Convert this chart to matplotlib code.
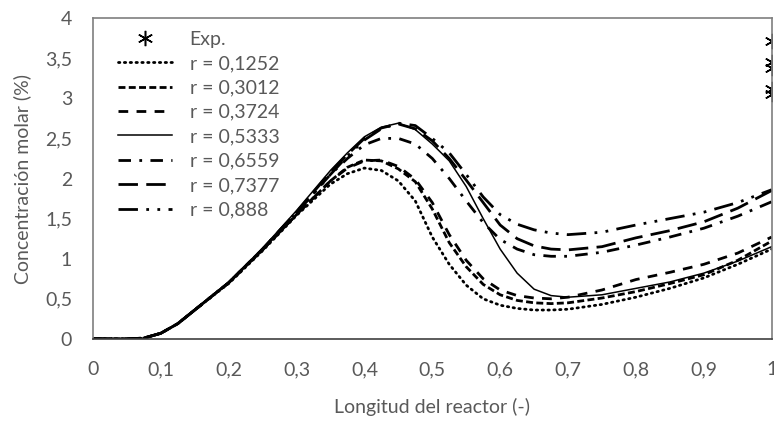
import numpy as np
import matplotlib.pyplot as plt

plt.rcParams['font.family'] = ['Lato', 'DejaVu Sans']

# longitud adimensional del reactor
x = [0, 0.05, 0.075, 0.1, 0.125, 0.15, 0.175, 0.2, 0.25, 0.3,
     0.35, 0.375, 0.4, 0.425, 0.45, 0.475, 0.5, 0.525, 0.55, 0.575,
     0.6, 0.625, 0.65, 0.675, 0.7, 0.75, 0.8, 0.85, 0.9, 0.95, 1.0]

c_01252 = [0, 0, 0.01, 0.07, 0.19, 0.36, 0.53, 0.69, 1.1, 1.54,
           1.93, 2.06, 2.13, 2.1, 1.97, 1.72, 1.27, 0.93, 0.67, 0.5,
           0.42, 0.38, 0.36, 0.36, 0.37, 0.43, 0.52, 0.63, 0.76, 0.93, 1.12]
c_03012 = [0, 0, 0.01, 0.07, 0.19, 0.36, 0.53, 0.7, 1.11, 1.55,
           1.97, 2.14, 2.23, 2.22, 2.12, 1.96, 1.62, 1.2, 0.9, 0.68,
           0.55, 0.48, 0.45, 0.44, 0.45, 0.51, 0.59, 0.69, 0.8, 0.98, 1.22]
c_03724 = [0, 0, 0.01, 0.07, 0.19, 0.36, 0.53, 0.7, 1.11, 1.55,
           1.97, 2.13, 2.22, 2.23, 2.15, 1.99, 1.7, 1.3, 0.98, 0.75,
           0.61, 0.54, 0.51, 0.5, 0.52, 0.61, 0.74, 0.83, 0.93, 1.07, 1.27]
c_05333 = [0, 0, 0.01, 0.07, 0.19, 0.37, 0.54, 0.71, 1.13, 1.6,
           2.1, 2.32, 2.52, 2.64, 2.69, 2.61, 2.43, 2.22, 1.9, 1.5,
           1.12, 0.82, 0.62, 0.54, 0.52, 0.55, 0.63, 0.71, 0.82, 0.97, 1.15]
c_06559 = [0, 0, 0.01, 0.07, 0.19, 0.36, 0.53, 0.7, 1.12, 1.58,
           2.05, 2.25, 2.42, 2.5, 2.5, 2.43, 2.25, 2.0, 1.72, 1.45,
           1.24, 1.12, 1.05, 1.03, 1.03, 1.08, 1.17, 1.27, 1.38, 1.53, 1.71]
c_07377 = [0, 0, 0.01, 0.07, 0.19, 0.36, 0.53, 0.7, 1.12, 1.58,
           2.08, 2.3, 2.5, 2.63, 2.68, 2.62, 2.47, 2.25, 1.98, 1.7,
           1.42, 1.25, 1.16, 1.12, 1.11, 1.15, 1.26, 1.35, 1.46, 1.63, 1.85]
c_0888 = [0, 0, 0.01, 0.07, 0.19, 0.36, 0.53, 0.7, 1.12, 1.57,
          2.05, 2.28, 2.48, 2.62, 2.69, 2.66, 2.5, 2.32, 2.05, 1.77,
          1.55, 1.43, 1.36, 1.32, 1.3, 1.33, 1.42, 1.5, 1.58, 1.7, 1.86]

# datos experimentales (salida del reactor)
x_exp = [1, 1, 1, 1, 1]
c_exp = [3.72, 3.45, 3.38, 3.12, 3.05]

gris = '#595959'

fig = plt.figure(figsize=(7.74, 4.21), dpi=100)
ax = fig.add_axes([0.120, 0.195, 0.877, 0.762])

ax.plot(x_exp, c_exp, linestyle='none', marker=(6, 2, 0), markersize=11,
        markeredgewidth=1.1, color='black', label='Exp.')
ax.plot(x, c_01252, color='black', lw=2, linestyle=(0, (0.5, 1.6)),
        dash_capstyle='round', label='r = 0,1252')
ax.plot(x, c_03012, color='black', lw=2, linestyle=(0, (2.5, 1.2)),
        label='r = 0,3012')
ax.plot(x, c_03724, color='black', lw=2, linestyle=(0, (3.5, 3)),
        label='r = 0,3724')
ax.plot(x, c_05333, color='black', lw=1.1, linestyle='-',
        label='r = 0,5333')
ax.plot(x, c_06559, color='black', lw=2, linestyle=(0, (4.5, 3, 1, 3)),
        label='r = 0,6559')
ax.plot(x, c_07377, color='black', lw=2, linestyle=(0, (7, 3)),
        label='r = 0,7377')
ax.plot(x, c_0888, color='black', lw=2, linestyle=(0, (7, 3, 1, 3, 1, 3)),
        label='r = 0,888')

ax.set_xlim(0, 1)
ax.set_ylim(0, 4)
ax.set_xticks(np.arange(0, 1.01, 0.1))
ax.set_yticks(np.arange(0, 4.01, 0.5))
ax.set_xticklabels(['0', '0,1', '0,2', '0,3', '0,4', '0,5', '0,6', '0,7',
                    '0,8', '0,9', '1'])
ax.set_yticklabels(['0', '0,5', '1', '1,5', '2', '2,5', '3', '3,5', '4'])
ax.tick_params(length=0, labelsize=14, labelcolor=gris)
ax.tick_params(axis='x', pad=16)
ax.tick_params(axis='y', pad=15)

for s in ax.spines.values():
    s.set_color('#7f7f7f')
    s.set_linewidth(1.2)
ax.spines['bottom'].set_color('#404040')

ax.set_xlabel('Longitud del reactor (-)', fontsize=14, color=gris, labelpad=14)
ax.set_ylabel('Concentración molar (%)', fontsize=14, color=gris, labelpad=10)

leg = ax.legend(loc='upper left', bbox_to_anchor=(0.025, 0.985), frameon=False,
                fontsize=14, handlelength=2.8, labelspacing=0.38,
                handletextpad=0.9, borderaxespad=0)
for t in leg.get_texts():
    t.set_color(gris)

fig.savefig('out.png', dpi=100)
